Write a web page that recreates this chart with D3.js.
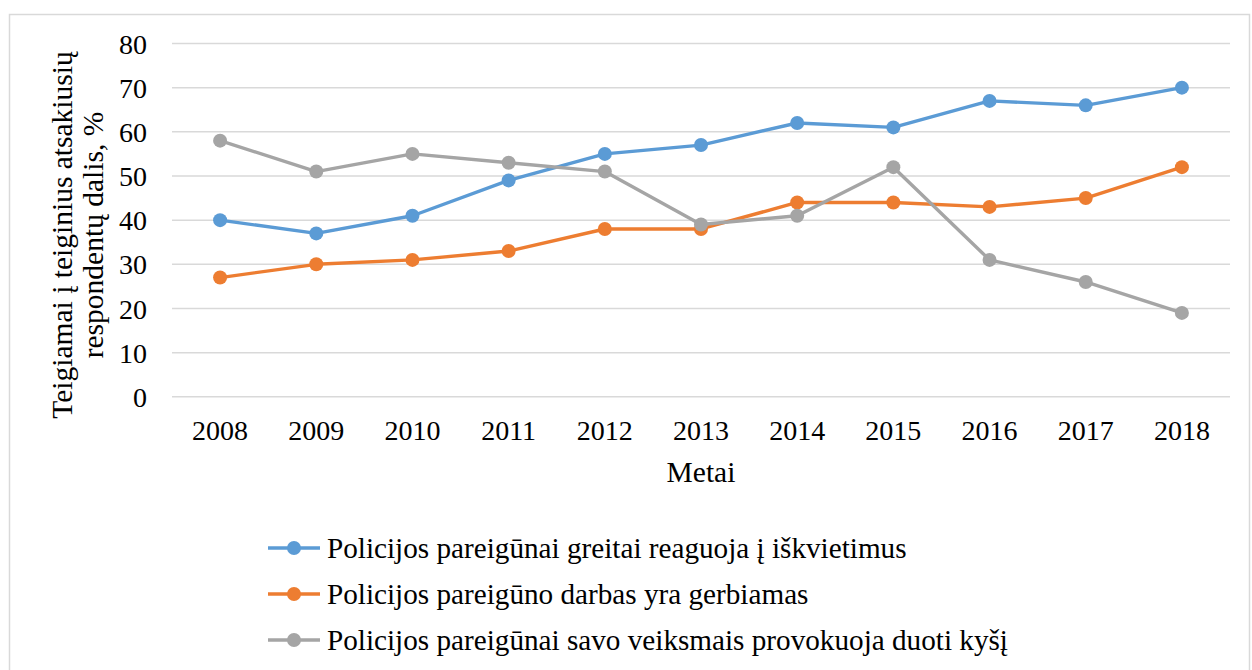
<!DOCTYPE html>
<html>
<head>
<meta charset="utf-8">
<script src="https://cdn.jsdelivr.net/npm/d3@7"></script>
<style>
  body { margin: 0; background: #fff; }
  svg text { font-family: "Liberation Serif", "DejaVu Serif", serif !important; fill: #000; }
</style>
</head>
<body>
<svg id="chart"></svg>
<script>
// Data
const years = ["2008", "2009", "2010", "2011", "2012", "2013", "2014", "2015", "2016", "2017", "2018"];
const reaguoja = [40, 37, 41, 49, 55, 57, 62, 61, 67, 66, 70];
const gerbiamas = [27, 30, 31, 33, 38, 38, 44, 44, 43, 45, 52];
const provokuoja = [58, 51, 55, 53, 51, 39, 41, 52, 31, 26, 19];
const seriesNames = [
  "Policijos pareigūnai greitai reaguoja į iškvietimus",
  "Policijos pareigūno darbas yra gerbiamas",
  "Policijos pareigūnai savo veiksmais provokuoja duoti kyšį"
];
const yTicks = [0, 10, 20, 30, 40, 50, 60, 70, 80];

const colors = ["#5b9bd5", "#ed7d31", "#a5a5a5"];
const series = [reaguoja, gerbiamas, provokuoja].map((values, i) => ({
  name: seriesNames[i],
  color: colors[i],
  values: values.map((v, j) => ({ year: years[j], value: v }))
}));

const width = 1252;
const height = 670;
const marginLeft = 172;
const marginRight = 22;
const marginTop = 43.5;
const plotBottom = 396.8;
const serif = '"Liberation Serif", "DejaVu Serif", serif';

const svg = d3.select("#chart")
  .attr("width", width)
  .attr("height", height)
  .attr("viewBox", `0 0 ${width} ${height}`)
  .style("font-family", serif);

// chart frame
svg.append("rect")
  .attr("x", 9.5)
  .attr("y", 14.5)
  .attr("width", width - 12)
  .attr("height", height)
  .attr("fill", "none")
  .attr("stroke", "#d9d9d9")
  .attr("stroke-width", 1.5);

const x = d3.scaleBand()
  .domain(years)
  .range([marginLeft, width - marginRight]);

const y = d3.scaleLinear()
  .domain([0, 80])
  .range([plotBottom, marginTop]);

// gridlines
svg.append("g")
  .selectAll("line")
  .data(yTicks)
  .join("line")
    .attr("x1", marginLeft)
    .attr("x2", width - marginRight)
    .attr("y1", d => y(d))
    .attr("y2", d => y(d))
    .attr("stroke", "#d9d9d9")
    .attr("stroke-width", 1.5);

// y axis labels
const yAxis = svg.append("g")
  .attr("transform", `translate(${marginLeft - 25},0)`)
  .call(d3.axisLeft(y).tickValues(yTicks).tickSize(0).tickPadding(0))
  .attr("font-family", null)
  .attr("font-size", null);
yAxis.select(".domain").remove();
yAxis.selectAll("text")
  .style("font-family", serif)
  .style("font-size", "28px")
  .attr("fill", "#000")
  .attr("dy", "0.34em");

// x axis labels
const xAxis = svg.append("g")
  .attr("transform", `translate(0,${plotBottom + 22})`)
  .call(d3.axisBottom(x).tickSize(0).tickPadding(0))
  .attr("font-family", null)
  .attr("font-size", null);
xAxis.select(".domain").remove();
xAxis.selectAll("text")
  .style("font-family", serif)
  .style("font-size", "28px")
  .attr("fill", "#000")
  .attr("dy", "0.75em");

// axis titles
svg.append("text")
  .attr("x", (marginLeft + width - marginRight) / 2)
  .attr("y", 482)
  .attr("text-anchor", "middle")
  .style("font-size", "29.5px")
  .text("Metai");

const yTitle = svg.append("text")
  .attr("transform", "translate(72,235) rotate(-90)")
  .attr("text-anchor", "middle")
  .style("font-size", "29.5px");
yTitle.append("tspan").attr("x", 0).attr("dy", 0).text("Teigiamai į teiginius atsakiusių");
yTitle.append("tspan").attr("x", 0).attr("dy", 31).text("respondentų dalis, %");

// lines
const line = d3.line()
  .x(d => x(d.year) + x.bandwidth() / 2)
  .y(d => y(d.value));

const g = svg.append("g")
  .selectAll("g")
  .data(series)
  .join("g");

g.append("path")
  .attr("d", d => line(d.values))
  .attr("fill", "none")
  .attr("stroke", d => d.color)
  .attr("stroke-width", 3.4)
  .attr("stroke-linejoin", "round");

g.selectAll("circle")
  .data(d => d.values.map(v => ({ ...v, color: d.color })))
  .join("circle")
    .attr("cx", d => x(d.year) + x.bandwidth() / 2)
    .attr("cy", d => y(d.value))
    .attr("r", 7)
    .attr("fill", d => d.color);

// legend
const legend = svg.append("g")
  .selectAll("g")
  .data(series)
  .join("g")
    .attr("transform", (d, i) => `translate(268,${548 + i * 46})`);

legend.append("line")
  .attr("x1", 0)
  .attr("x2", 52)
  .attr("stroke", d => d.color)
  .attr("stroke-width", 3.4);

legend.append("circle")
  .attr("cx", 26)
  .attr("r", 7)
  .attr("fill", d => d.color);

legend.append("text")
  .attr("x", 59)
  .attr("dy", "0.34em")
  .style("font-size", "29.2px")
  .text(d => d.name);
</script>
</body>
</html>
